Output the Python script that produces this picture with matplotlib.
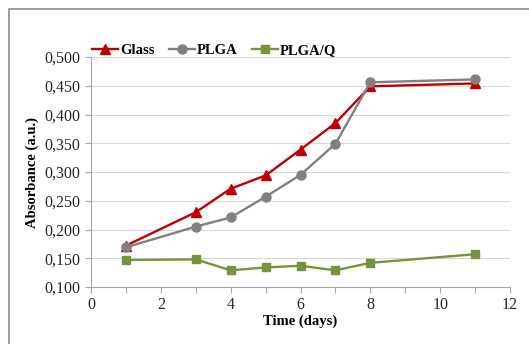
import matplotlib
matplotlib.use("Agg")
import matplotlib.pyplot as plt
from matplotlib.patches import Rectangle
from matplotlib.ticker import MultipleLocator, FuncFormatter

days = [1, 3, 4, 5, 6, 7, 8, 11]
glass = [0.172, 0.230, 0.271, 0.294, 0.339, 0.385, 0.449, 0.454]
plga = [0.169, 0.205, 0.221, 0.257, 0.295, 0.349, 0.456, 0.461]
plgaq = [0.147, 0.148, 0.129, 0.134, 0.137, 0.129, 0.142, 0.157]
series_names = ["Glass", "PLGA", "PLGA/Q"]

plt.rcParams['font.family'] = ['Liberation Serif', 'DejaVu Serif']

W, H = 529, 344
fig = plt.figure(figsize=(W/100, H/100), dpi=100)
fig.patch.set_facecolor('white')
fig.patches.append(Rectangle((9/W, -0.1), 1.2, 1 - 9/H + 0.1, transform=fig.transFigure,
                             fill=False, edgecolor='#8c8c8c', linewidth=1.2))

ax = fig.add_axes([91/W, 1 - 287/H, (510-91)/W, (287-57)/H])
ax.plot(days, glass, color='#C00000', lw=1.7, marker='^', ms=6.5, label=series_names[0], zorder=3)
ax.plot(days, plga, color='#808080', lw=1.7, marker='o', ms=6.5, label=series_names[1], zorder=3)
ax.plot(days, plgaq, color='#77933C', lw=1.7, marker='s', ms=6, label=series_names[2], zorder=3)

ax.set_xlim(0, 12)
ax.set_ylim(0.1, 0.5)
ax.xaxis.set_major_locator(MultipleLocator(2))
ax.xaxis.set_minor_locator(MultipleLocator(1))
ax.yaxis.set_major_locator(MultipleLocator(0.05))
ax.yaxis.set_major_formatter(FuncFormatter(lambda v, p: f"{v:.3f}".replace('.', ',')))
ax.grid(axis='y', color='#d9d9d9', lw=0.8)
ax.set_axisbelow(True)
for s in ['top', 'right']:
    ax.spines[s].set_visible(False)
for s in ['left', 'bottom']:
    ax.spines[s].set_color('#a6a6a6')
    ax.spines[s].set_linewidth(0.8)
ax.tick_params(axis='both', which='both', direction='out', color='#a6a6a6', length=4, width=0.8,
               labelsize=11.5, labelcolor='#262626')
ax.set_xlabel("Time (days)", fontsize=10.5, fontweight='bold', labelpad=1)
ax.set_ylabel("Absorbance (a.u.)", fontsize=10.5, fontweight='bold', labelpad=4)

leg = ax.legend(loc='lower left', bbox_to_anchor=(-0.012, 0.975), ncol=3, frameon=False,
                prop={'weight': 'bold', 'size': 10.5}, handlelength=1.8, handletextpad=0.15,
                columnspacing=0.95, borderaxespad=0)

fig.savefig("out.png", dpi=100)
